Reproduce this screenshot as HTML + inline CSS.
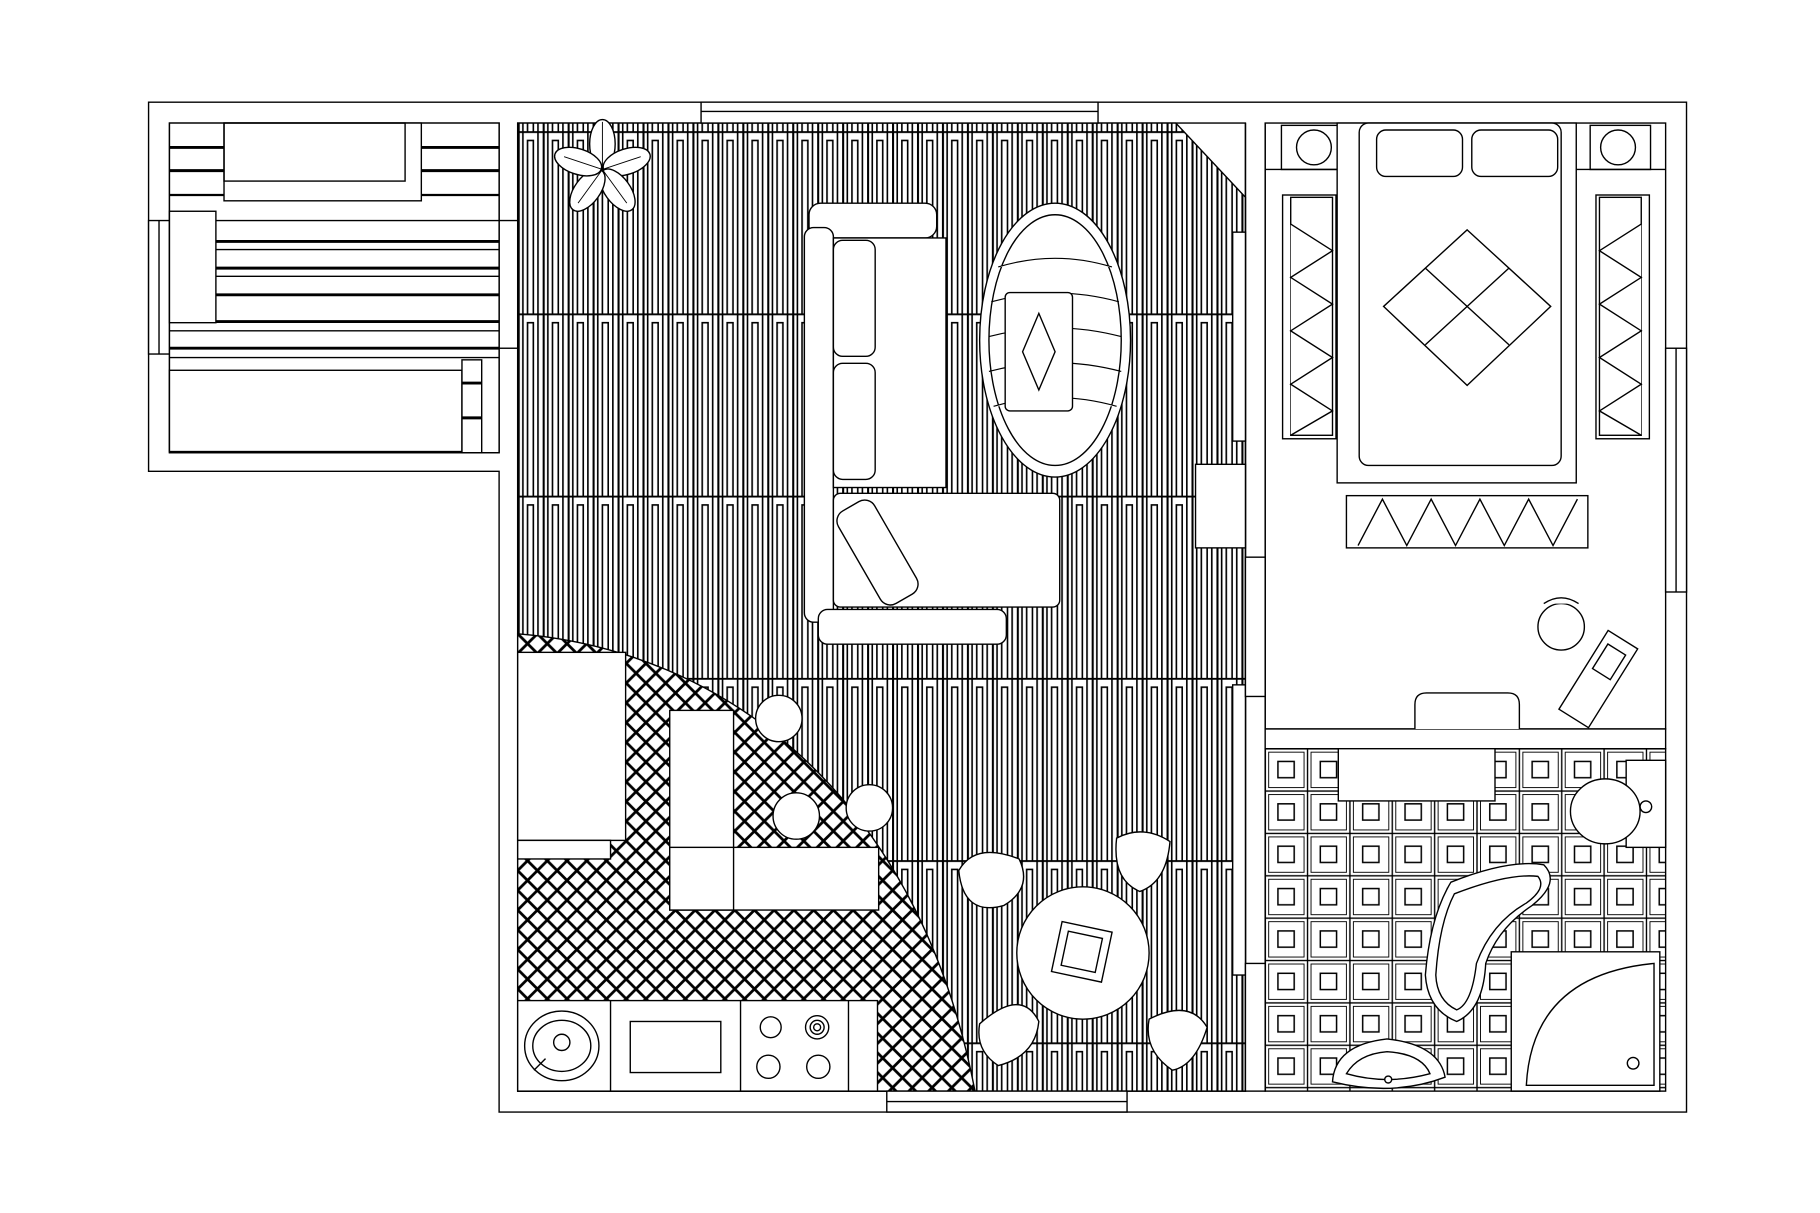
<!DOCTYPE html>
<html><head><meta charset="utf-8"><style>html,body{margin:0;padding:0;background:#fff}svg{display:block}</style></head>
<body>
<svg width="1820" height="1213" viewBox="0 0 1568 1045" preserveAspectRatio="none" xmlns="http://www.w3.org/2000/svg">
<defs>
<pattern id="wood" x="446" y="113" width="21.5" height="157" patternUnits="userSpaceOnUse">
<rect width="21.5" height="157" fill="#fff"/>
<g stroke="#000" fill="none" stroke-width="1.4">
<line x1="0.8" y1="0" x2="0.8" y2="157" stroke-width="2"/>
<line x1="4.5" y1="0" x2="4.5" y2="157"/>
<path d="M8.5,157 V8 H13.5 V157"/>
<line x1="17.5" y1="0" x2="17.5" y2="157"/>
<line x1="0" y1="0.7" x2="21.5" y2="0.7" stroke-width="1.8"/>
</g>
</pattern>
<pattern id="cross" x="446" y="546" width="17" height="17" patternUnits="userSpaceOnUse">
<rect width="17" height="17" fill="#fff"/>
<path d="M0,0 L17,17 M17,0 L0,17" stroke="#000" stroke-width="2.4"/>
</pattern>
<pattern id="tile" x="1090" y="645" width="36.5" height="36.5" patternUnits="userSpaceOnUse">
<rect width="36.5" height="36.5" fill="#fff" stroke="#000" stroke-width="1.2"/>
<rect x="3" y="3" width="30.5" height="30.5" fill="none" stroke="#000" stroke-width="0.8"/>
<rect x="11" y="11" width="14" height="14" fill="none" stroke="#000" stroke-width="1.3"/>
</pattern>
</defs>
<g fill="none" stroke="#000" stroke-width="1.2">
<!-- walls -->
<path d="M128,88 H1453 V958 H430 V406 H128 Z" fill="#fff"/>
<path d="M146,106 H430 V390 H146 Z"/>
<rect x="446" y="106" width="627" height="834" fill="#fff"/>
<path d="M446,106 H1013 L1073,170 V940 H446 Z" fill="url(#wood)"/>
<path d="M446,546 C620,560 790,680 840,940 H446 Z" fill="url(#cross)"/>
<rect x="1090" y="106" width="345" height="522" fill="#fff"/>
<rect x="1090" y="645" width="345" height="295" fill="url(#tile)"/>
<line x1="1073" y1="106" x2="1073" y2="940"/>
<line x1="1090" y1="106" x2="1090" y2="940"/>
<!-- windows -->
<rect x="604" y="88" width="342" height="18" fill="#fff"/><line x1="604" y1="96" x2="946" y2="96"/>
<rect x="764" y="940" width="207" height="18" fill="#fff"/><line x1="764" y1="949" x2="971" y2="949"/>
<rect x="128" y="190" width="18" height="115" fill="#fff"/><line x1="137" y1="190" x2="137" y2="305"/>
<rect x="1435" y="300" width="18" height="210" fill="#fff"/><line x1="1444" y1="300" x2="1444" y2="510"/>
<!-- doors / wall jambs -->
<rect x="1062" y="200" width="11" height="180" fill="#fff"/>
<rect x="1062" y="590" width="11" height="250" fill="#fff"/>
<rect x="1073" y="480" width="17" height="120" fill="#fff"/>
<rect x="1073" y="830" width="17" height="110" fill="#fff"/>
<rect x="1090" y="628" width="345" height="17" fill="#fff"/>
<rect x="430" y="190" width="16" height="110" fill="#fff"/>
<!-- balcony -->
<g>
<rect x="146" y="106" width="284" height="284" fill="#fff"/>
<line x1="146" y1="127" x2="430" y2="127" stroke-width="2.5"/>
<line x1="146" y1="147" x2="430" y2="147" stroke-width="2.5"/>
<line x1="146" y1="168" x2="430" y2="168" stroke-width="2"/>
<rect x="193" y="106" width="170" height="67" fill="#fff"/>
<rect x="193" y="106" width="156" height="50"/>
<line x1="176" y1="208" x2="430" y2="208" stroke-width="2.5"/>
<line x1="176" y1="231" x2="430" y2="231" stroke-width="2.5"/>
<line x1="176" y1="254" x2="430" y2="254" stroke-width="2.5"/>
<line x1="146" y1="277" x2="430" y2="277" stroke-width="2.5"/>
<line x1="146" y1="300" x2="430" y2="300" stroke-width="2.5"/>
<line x1="176" y1="190" x2="430" y2="190"/>
<line x1="176" y1="215" x2="430" y2="215"/>
<line x1="176" y1="238" x2="430" y2="238"/>
<line x1="146" y1="285" x2="430" y2="285"/>
<line x1="146" y1="308" x2="430" y2="308"/>
<rect x="146" y="182" width="40" height="96" fill="#fff"/>
<rect x="146" y="319" width="252" height="70" fill="#fff"/>
<rect x="398" y="310" width="17" height="80" fill="#fff"/>
<line x1="398" y1="330" x2="415" y2="330" stroke-width="2.5"/>
<line x1="398" y1="360" x2="415" y2="360" stroke-width="2.5"/>
</g>
<!-- plant -->
<g fill="#fff">
<ellipse cx="519" cy="124" rx="11" ry="21"/>
<ellipse cx="519" cy="124" rx="11" ry="21" transform="rotate(72 519 146)"/>
<ellipse cx="519" cy="124" rx="11" ry="21" transform="rotate(144 519 146)"/>
<ellipse cx="519" cy="124" rx="11" ry="21" transform="rotate(216 519 146)"/>
<ellipse cx="519" cy="124" rx="11" ry="21" transform="rotate(288 519 146)"/>
<path d="M519,146 L519,105 M519,146 L552,135 M519,146 L540,175 M519,146 L498,175 M519,146 L486,135" stroke-width="0.8"/>
</g>
<!-- sofa -->
<g fill="#fff">
<rect x="697" y="175" width="110" height="30" rx="10"/>
<rect x="693" y="196" width="25" height="340" rx="8"/>
<rect x="718" y="205" width="97" height="215"/>
<rect x="718" y="207" width="36" height="100" rx="8"/>
<rect x="718" y="313" width="36" height="100" rx="8"/>
<rect x="718" y="425" width="195" height="98" rx="6"/>
<rect x="738" y="430" width="36" height="92" rx="10" transform="rotate(-30 756 476)"/>
<rect x="705" y="525" width="162" height="30" rx="8"/>
<ellipse cx="909" cy="293" rx="65" ry="118"/>
<ellipse cx="909" cy="293" rx="57" ry="108"/>
<path d="M860,230 Q909,215 958,230 M854,260 Q909,245 964,260 M852,290 Q909,275 966,290 M852,320 Q909,305 966,320 M856,350 Q909,335 962,350" stroke-width="1"/>
<rect x="866" y="252" width="58" height="102" rx="4"/>
<path d="M895,270 L909,303 L895,336 L881,303 Z"/>
</g>
<!-- cabinet near door -->
<rect x="1030" y="400" width="43" height="72" fill="#fff"/>
<!-- kitchen -->
<g fill="#fff">
<rect x="446" y="562" width="93" height="162"/>
<rect x="446" y="724" width="80" height="16"/>
<rect x="577" y="612" width="55" height="172"/>
<rect x="577" y="730" width="180" height="54"/>
<line x1="632" y1="730" x2="632" y2="784"/>
<circle cx="671" cy="619" r="20"/>
<circle cx="686" cy="703" r="20"/>
<circle cx="749" cy="696" r="20"/>
<rect x="446" y="862" width="310" height="78"/>
<line x1="526" y1="862" x2="526" y2="940"/><line x1="638" y1="862" x2="638" y2="940"/><line x1="731" y1="862" x2="731" y2="940"/>
<rect x="543" y="880" width="78" height="44"/>
<ellipse cx="484" cy="901" rx="32" ry="30"/><ellipse cx="484" cy="901" rx="25" ry="22"/><circle cx="484" cy="898" r="7"/>
<line x1="470" y1="912" x2="460" y2="922"/>
<circle cx="664" cy="885" r="9"/><circle cx="704" cy="885" r="10"/><circle cx="704" cy="885" r="6"/><circle cx="704" cy="885" r="3"/>
<circle cx="662" cy="919" r="10"/><circle cx="705" cy="919" r="10"/>
</g>
<!-- dining -->
<g fill="#fff">
<circle cx="933" cy="821" r="57"/>
<rect x="910" y="798" width="44" height="44" transform="rotate(12 932 820)"/>
<rect x="917" y="805" width="30" height="30" transform="rotate(12 932 820)"/>
<path d="M826,750 Q840,725 878,740 Q890,765 865,780 Q830,790 826,750 Z"/>
<path d="M962,722 Q985,710 1008,725 Q1005,760 982,768 Q958,758 962,722 Z"/>
<path d="M844,882 Q880,850 895,880 Q892,910 860,918 Q840,905 844,882 Z"/>
<path d="M990,878 Q1025,860 1040,885 Q1030,918 1010,922 Q985,905 990,878 Z"/>
</g>
<!-- bedroom -->
<g fill="#fff">
<rect x="1104" y="108" width="54" height="38"/><rect x="1370" y="108" width="52" height="38"/>
<circle cx="1132" cy="127" r="15"/><circle cx="1394" cy="127" r="15"/>
<line x1="1090" y1="146" x2="1158" y2="146"/><line x1="1358" y1="146" x2="1435" y2="146"/>
<rect x="1152" y="106" width="206" height="310"/>
<rect x="1171" y="106" width="174" height="295" rx="8"/>
<rect x="1186" y="112" width="74" height="40" rx="8"/><rect x="1268" y="112" width="74" height="40" rx="8"/>
<path d="M1264,198 L1336,264 L1264,332 L1192,264 Z M1228,231 L1300,297 M1300,231 L1228,297"/>
<rect x="1105" y="168" width="46" height="210"/><rect x="1112" y="170" width="36" height="205"/>
<path d="M1112,193 L1148,216 L1112,239 L1148,262 L1112,285 L1148,308 L1112,331 L1148,354 L1112,375"/>
<rect x="1375" y="168" width="46" height="210"/><rect x="1378" y="170" width="36" height="205"/>
<path d="M1414,193 L1378,216 L1414,239 L1378,262 L1414,285 L1378,308 L1414,331 L1378,354 L1414,375"/>
<rect x="1160" y="427" width="208" height="45"/>
<path d="M1170,470 L1191,430 L1212,470 L1233,430 L1254,470 L1275,430 L1296,470 L1317,430 L1338,470 L1359,430"/>
<path d="M1219,628 V607 Q1219,597 1229,597 H1299 Q1309,597 1309,607 V628"/>
<circle cx="1345" cy="540" r="20"/><path d="M1330,520 Q1345,510 1360,520"/>
<rect x="1362" y="545" width="30" height="80" transform="rotate(32 1377 585)"/>
<rect x="1368" y="555" width="18" height="25" transform="rotate(32 1377 585)"/>
</g>
<!-- bathroom -->
<g fill="#fff">
<rect x="1153" y="645" width="135" height="45"/>
<rect x="1401" y="655" width="34" height="75"/>
<ellipse cx="1383" cy="699" rx="30" ry="28"/>
<circle cx="1418" cy="695" r="5"/>
<path d="M1302,820 H1430 V940 H1302 Z"/>
<path d="M1315,935 Q1320,840 1425,830 V935 Z"/>
<circle cx="1407" cy="916" r="5"/>
<path d="M1250,760 Q1300,740 1330,745 Q1345,760 1320,780 Q1290,800 1280,830 Q1278,870 1255,880 Q1230,870 1228,840 Q1232,790 1250,760 Z"/>
<path d="M1253,770 Q1300,752 1325,755 Q1333,765 1315,778 Q1285,795 1272,830 Q1268,865 1255,870 Q1238,862 1237,840 Q1240,795 1253,770 Z"/>
<path d="M1148,932 Q1150,900 1195,895 Q1240,900 1245,928 Q1200,945 1148,932 Z"/>
<path d="M1160,925 Q1170,908 1195,906 Q1225,908 1232,925 Q1195,935 1160,925 Z"/>
<circle cx="1196" cy="930" r="3"/>
</g>
</g>
</svg>
</body></html>
